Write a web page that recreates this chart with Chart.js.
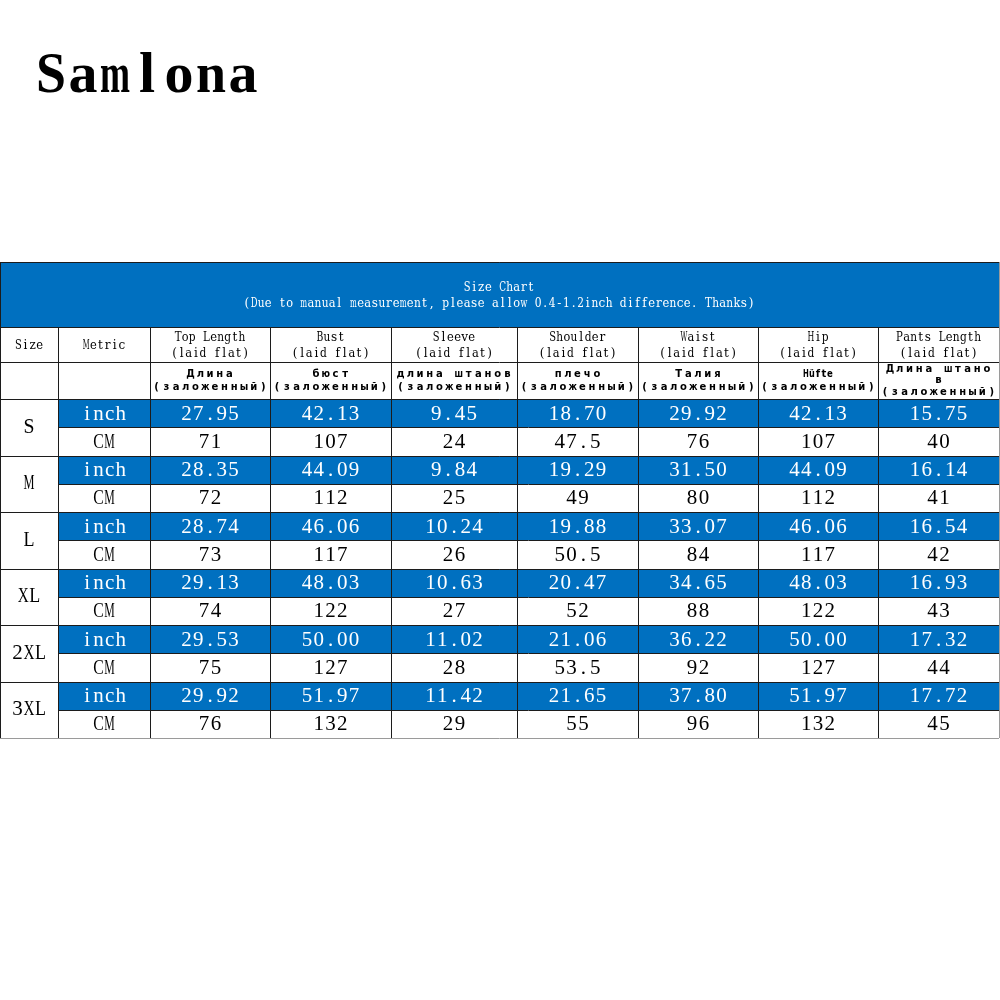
<!DOCTYPE html>
<html>
<head>
<meta charset="utf-8">
<script src="https://cdn.jsdelivr.net/npm/chart.js@4.4.1/dist/chart.umd.min.js"></script>
<style>
    html, body { margin: 0; padding: 0; background: #fff; }
    #wrap { position: relative; width: 1000px; height: 1000px; }
</style>
</head>
<body>
<div id="wrap"><canvas id="size-chart" width="1000" height="1000"></canvas></div>
<script>
// ---- Data ----
const brand = 'Samlona';
const tableTitle = 'Size Chart';
const tableNote = '(Due to manual measurement, please allow 0.4-1.2inch difference. Thanks)';
const sizes = ['S', 'M', 'L', 'XL', '2XL', '3XL'];
const metrics = ['inch', 'CM'];
const measures = ['Top Length', 'Bust', 'Sleeve', 'Shoulder', 'Waist', 'Hip', 'Pants Length'];
const measuresRu = [
    ['Длина', '(заложенный)'],
    ['бюст', '(заложенный)'],
    ['длина штанов', '(заложенный)'],
    ['плечо', '(заложенный)'],
    ['Талия', '(заложенный)'],
    ['Hüfte', '(заложенный)'],
    ['Длина штано', 'в', '(заложенный)']
];

const topLengthInch = [27.95, 28.35, 28.74, 29.13, 29.53, 29.92];
const bustInch      = [42.13, 44.09, 46.06, 48.03, 50.00, 51.97];
const sleeveInch    = [9.45, 9.84, 10.24, 10.63, 11.02, 11.42];
const shoulderInch  = [18.70, 19.29, 19.88, 20.47, 21.06, 21.65];
const waistInch     = [29.92, 31.50, 33.07, 34.65, 36.22, 37.80];
const hipInch       = [42.13, 44.09, 46.06, 48.03, 50.00, 51.97];
const pantsInch     = [15.75, 16.14, 16.54, 16.93, 17.32, 17.72];

const topLengthCm = [71, 72, 73, 74, 75, 76];
const bustCm      = [107, 112, 117, 122, 127, 132];
const sleeveCm    = [24, 25, 26, 27, 28, 29];
const shoulderCm  = [47.5, 49, 50.5, 52, 53.5, 55];
const waistCm     = [76, 80, 84, 88, 92, 96];
const hipCm       = [107, 112, 117, 122, 127, 132];
const pantsCm     = [40, 41, 42, 43, 44, 45];

const inchValues = [topLengthInch, bustInch, sleeveInch, shoulderInch, waistInch, hipInch, pantsInch];
const cmValues = [topLengthCm, bustCm, sleeveCm, shoulderCm, waistCm, hipCm, pantsCm];

// ---- Layout (scale units, 1 unit = 1 px on a 1000 range) ----
const colEdges = [0, 58, 150, 270, 391, 517, 638, 758, 878, 999];
const tableTop = 262;
const headBottom = 327;
const nameBottom = 362;
const ruBottom = 399;
const rowH = 28.25;

const BLUE = '#0070c0';
const LINE = '#1c1c1c';
const EDGE = '#9a9a9a';
const SERIF = '"Liberation Serif", "DejaVu Serif", serif';

// draws text with a fixed advance per character (monospace look)
function spacedText(ctx, text, cx, cy, adv, maxW) {
    const chars = [...text];
    let x = cx - chars.length * adv / 2 + adv / 2;
    chars.forEach(ch => {
        const w = ctx.measureText(ch).width;
        ctx.save();
        ctx.translate(x, cy);
        if (maxW && w > maxW) ctx.scale(maxW / w, 1);
        ctx.fillText(ch, 0, 0);
        ctx.restore();
        x += adv;
    });
}

const tablePlugin = {
    id: 'sizeTable',
    afterDraw(chart) {
        const ctx = chart.ctx;
        const xs = chart.scales.x, ys = chart.scales.y;
        const X = v => Math.round(xs.getPixelForValue(v));
        const Y = v => Math.round(ys.getPixelForValue(v));
        const colMid = i => (xs.getPixelForValue(colEdges[i]) + xs.getPixelForValue(colEdges[i + 1])) / 2;
        const tableBottom = ruBottom + rowH * sizes.length * 2;
        const right = colEdges[colEdges.length - 1];

        ctx.save();

        // brand
        ctx.fillStyle = '#000';
        ctx.textAlign = 'center';
        ctx.textBaseline = 'alphabetic';
        ctx.font = 'bold 58px ' + SERIF;
        spacedText(ctx, brand, xs.getPixelForValue(147), ys.getPixelForValue(92), 32, 30);

        // blue fills
        ctx.fillStyle = BLUE;
        ctx.fillRect(X(0), Y(tableTop), X(right) - X(0), Y(headBottom) - Y(tableTop));
        sizes.forEach((s, i) => {
            const y0 = ruBottom + rowH * 2 * i;
            ctx.fillRect(X(colEdges[1]), Y(y0), X(right) - X(colEdges[1]), Y(y0 + rowH) - Y(y0));
        });

        // grid lines
        ctx.lineWidth = 1;
        ctx.strokeStyle = LINE;
        const hLine = (y, x0, x1) => {
            ctx.beginPath();
            ctx.moveTo(X(x0), Y(y) + 0.5);
            ctx.lineTo(X(x1), Y(y) + 0.5);
            ctx.stroke();
        };
        const vLine = (x, y0, y1) => {
            ctx.beginPath();
            ctx.moveTo(X(x) + 0.5, Y(y0));
            ctx.lineTo(X(x) + 0.5, Y(y1));
            ctx.stroke();
        };
        hLine(tableTop, 0, right);
        hLine(headBottom, 0, right);
        hLine(nameBottom, 0, right);
        hLine(ruBottom, 0, right);
        sizes.forEach((s, i) => {
            const y0 = ruBottom + rowH * 2 * i;
            hLine(y0 + rowH, colEdges[1], right);
            if (i > 0) hLine(y0, 0, right);
        });
        vLine(0, tableTop, tableBottom);
        colEdges.slice(1, -1).forEach(x => vLine(x, headBottom, tableBottom));
        ctx.strokeStyle = EDGE;
        vLine(right, tableTop, tableBottom);
        hLine(tableBottom, 0, right);

        // header texts
        ctx.textBaseline = 'middle';
        ctx.fillStyle = '#fff';
        ctx.font = '12px "DejaVu Serif", serif';
        spacedText(ctx, tableTitle, xs.getPixelForValue(499), ys.getPixelForValue(288), 7.1, 6.8);
        spacedText(ctx, tableNote, xs.getPixelForValue(499), ys.getPixelForValue(304), 7.1, 6.8);

        ctx.fillStyle = '#000';
        spacedText(ctx, 'Size', colMid(0), ys.getPixelForValue(346), 7.1, 6.8);
        spacedText(ctx, 'Metric', colMid(1), ys.getPixelForValue(346), 7.1, 6.8);
        measures.forEach((m, j) => {
            spacedText(ctx, m, colMid(j + 2), ys.getPixelForValue(338), 7.1, 6.8);
            spacedText(ctx, '(laid flat)', colMid(j + 2), ys.getPixelForValue(354), 7.1, 6.8);
        });

        ctx.font = 'bold 10px "DejaVu Sans", sans-serif';
        measuresRu.forEach((lines, j) => {
            const rowYs = lines.length === 3 ? [369, 380, 392] : [374, 387];
            lines.forEach((t, k) => {
                const adv = t === 'Hüfte' ? 6 : 9.7;
                spacedText(ctx, t, colMid(j + 2), ys.getPixelForValue(rowYs[k]), adv, t === 'Hüfte' ? 5.8 : 8.5);
            });
        });

        // body
        ctx.font = '21px ' + SERIF;
        sizes.forEach((s, i) => {
            const y0 = ruBottom + rowH * 2 * i;
            ctx.fillStyle = '#000';
            spacedText(ctx, s, colMid(0), ys.getPixelForValue(y0 + rowH), 11.5, 11);
            metrics.forEach((m, r) => {
                const yc = ys.getPixelForValue(y0 + rowH * r + rowH / 2 + 1);
                ctx.fillStyle = r === 0 ? '#fff' : '#000';
                spacedText(ctx, m, colMid(1), yc, 11.2, 10.5);
                const src = r === 0 ? inchValues : cmValues;
                src.forEach((arr, j) => {
                    const txt = r === 0 ? arr[i].toFixed(2) : String(arr[i]);
                    spacedText(ctx, txt, colMid(j + 2), yc, 11.8, 11);
                });
            });
        });

        ctx.restore();
    }
};

new Chart(document.getElementById('size-chart').getContext('2d'), {
    type: 'scatter',
    data: { datasets: [] },
    options: {
        responsive: false,
        animation: false,
        layout: { padding: 0 },
        plugins: { legend: { display: false }, tooltip: { enabled: false } },
        scales: {
            x: { type: 'linear', min: 0, max: 1000, display: false },
            y: { type: 'linear', min: 0, max: 1000, reverse: true, display: false }
        }
    },
    plugins: [tablePlugin]
});
</script>
</body>
</html>
